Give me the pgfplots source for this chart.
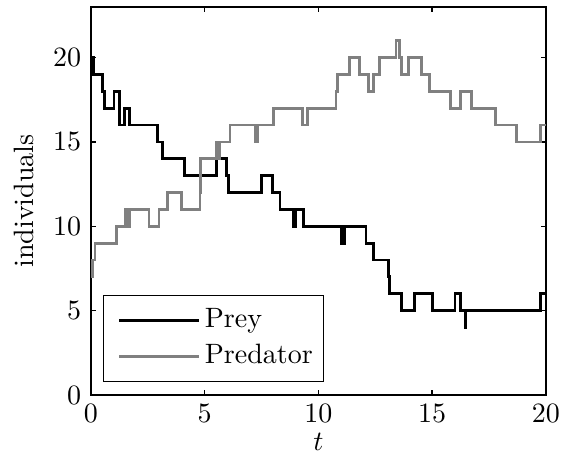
\documentclass[border=0pt]{standalone}
\usepackage{pgfplots}
\pgfplotsset{compat=1.18}
\definecolor{predgray}{RGB}{128,128,128}
\begin{document}
\begin{tikzpicture}
\begin{axis}[
  scale only axis,
  width=162.5pt, height=138.6pt,
  xmin=0, xmax=20, ymin=0, ymax=23,
  xtick={0,5,10,15,20}, ytick={0,5,10,15,20},
  tick align=inside,
  major tick length=1.8pt,
  axis line style={line width=0.6pt},
  every tick/.style={line width=0.5pt, black},
  xlabel={$t$}, ylabel={individuals},
  xlabel style={yshift=3pt},
  legend cell align=left,
  legend style={at={(rel axis cs:0.026,0.033)}, anchor=south west, draw=black, line width=0.5pt, inner xsep=2.3pt, inner ysep=2.6pt, row sep=0pt,
    nodes={inner xsep=1.6pt, inner ysep=2.2pt}},
  legend image code/.code={\path (-0.1cm,0cm); \draw[#1, line width=1pt] (0cm,0cm) -- (1.0cm,0cm);},
]
\addplot[const plot, black, line width=1pt] coordinates {
(0,20) (0.1,19) (0.51,18) (0.58,17) (1.01,18) (1.24,17) (1.25,16) (1.49,17) (1.71,16)
(2.93,15) (3.13,14) (4.10,13) (5.53,14) (5.96,13) (6.04,12) (7.50,13) (7.99,12) (8.31,11)
(8.92,10) (9.01,11) (9.36,10) (11.02,9) (11.16,10) (12.09,9) (12.41,8) (13.07,7) (13.14,6)
(13.66,5) (14.24,6) (15.02,5) (16.0,6) (16.25,5) (16.44,4) (16.48,5) (19.76,6) (20,6)
};
\addlegendentry{Prey}
\addplot[const plot, predgray, line width=1pt] coordinates {
(0,7) (0.06,8) (0.18,9) (1.13,10) (1.53,11) (1.6,10) (1.71,11) (2.55,10) (2.99,11)
(3.37,12) (3.99,11) (4.79,12) (4.8,13) (4.81,14) (5.5,15) (5.53,14) (5.57,15) (5.6,14) (5.64,15)
(6.11,16) (7.21,15) (7.31,16) (8.04,17) (9.31,16) (9.51,17) (10.77,18) (10.83,19) (11.35,20)
(11.82,19) (12.19,18) (12.41,19) (12.67,20) (13.41,21) (13.55,20) (13.66,19) (13.95,20)
(14.54,19) (14.90,18) (15.82,17) (16.25,18) (16.73,17) (17.80,16) (18.71,15) (19.78,16) (20,16)
};
\addlegendentry{Predator}
\end{axis}
\path (current axis.south west) ++(-32.5pt,-23.2pt) coordinate (bbA);
\path (current axis.north east) ++(5.4pt,2.5pt) coordinate (bbB);
\pgfresetboundingbox
\path[use as bounding box] (bbA) rectangle (bbB);
\end{tikzpicture}
\end{document}
